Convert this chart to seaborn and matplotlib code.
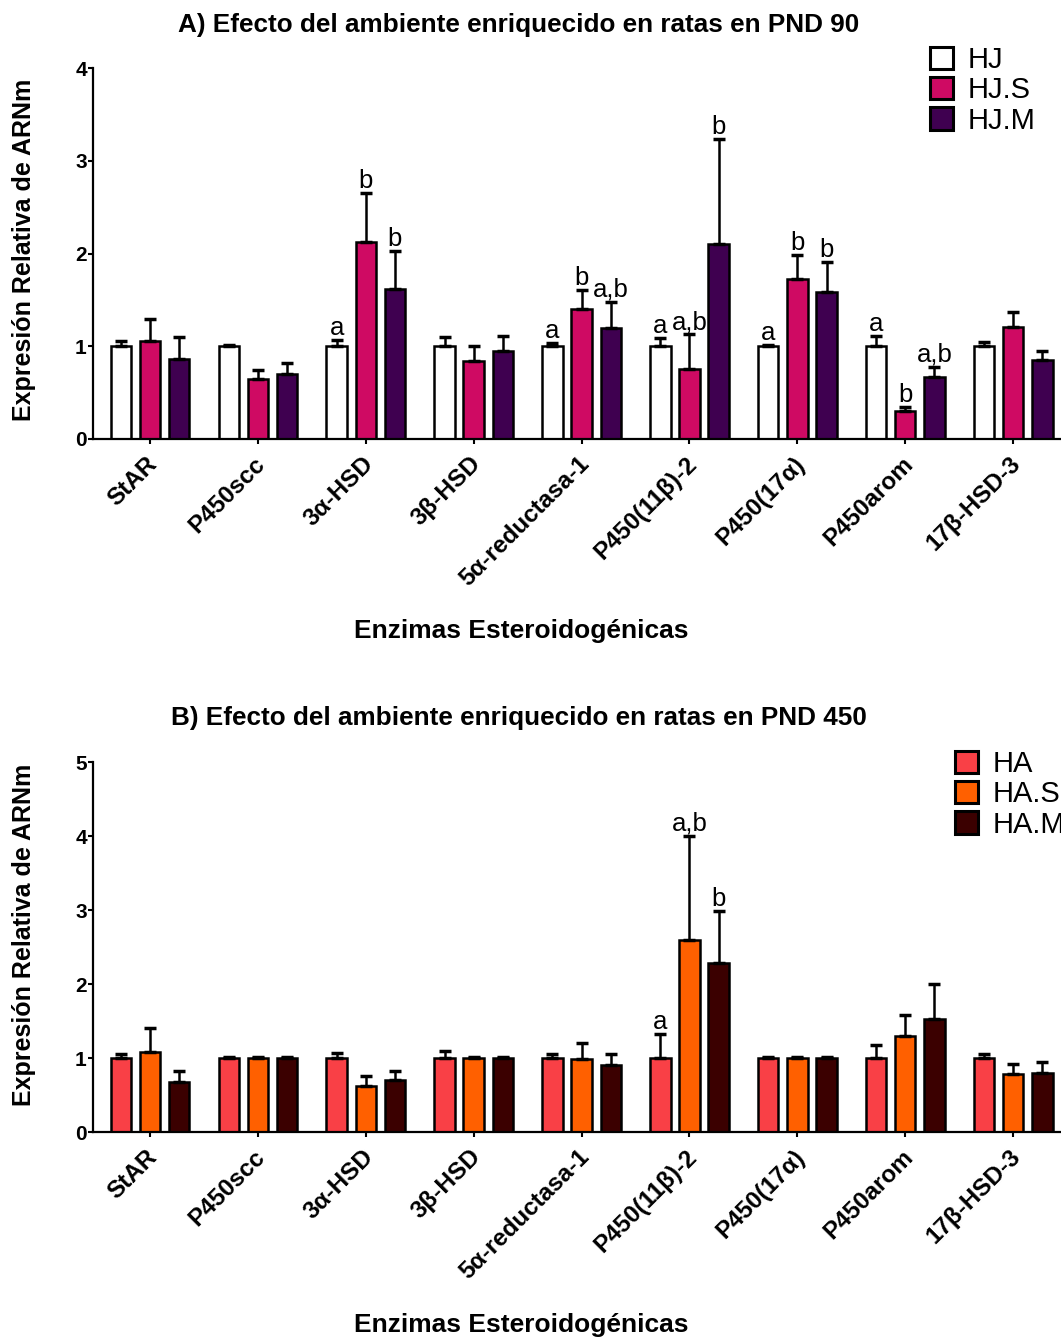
import numpy as np
import pandas as pd
import matplotlib
matplotlib.use("Agg")
import matplotlib.pyplot as plt
import matplotlib.patches as mpatches
import matplotlib.transforms as mtransforms
import seaborn as sns

enzimas = ["StAR", "P450scc", "3α-HSD", "3β-HSD", "5α-reductasa-1",
           "P450(11β)-2", "P450(17α)", "P450arom", "17β-HSD-3"]

# panel A - PND 90
grupos_a = ["HJ", "HJ.S", "HJ.M"]
hj = [1.00, 1.00, 1.00, 1.00, 1.00, 1.00, 1.00, 1.00, 1.00]
hj_s = [1.06, 0.65, 2.12, 0.84, 1.40, 0.76, 1.73, 0.30, 1.21]
hj_m = [0.86, 0.70, 1.62, 0.95, 1.20, 2.10, 1.59, 0.67, 0.85]
hj_err = [0.06, 0.01, 0.07, 0.10, 0.04, 0.09, 0.01, 0.11, 0.05]
hj_s_err = [0.23, 0.09, 0.53, 0.16, 0.21, 0.37, 0.25, 0.04, 0.16]
hj_m_err = [0.24, 0.12, 0.41, 0.16, 0.28, 1.13, 0.32, 0.11, 0.10]
letras_a = [["", "", "a", "", "a", "a", "a", "a", ""],
            ["", "", "b", "", "b", "a,b", "b", "b", ""],
            ["", "", "b", "", "a,b", "b", "b", "a,b", ""]]

# panel B - PND 450
grupos_b = ["HA", "HA.S", "HA.M"]
ha = [1.00, 1.00, 1.00, 1.00, 1.00, 1.00, 1.00, 1.00, 1.00]
ha_s = [1.08, 1.00, 0.62, 1.00, 0.98, 2.60, 1.00, 1.30, 0.78]
ha_m = [0.68, 1.00, 0.70, 1.00, 0.90, 2.28, 1.00, 1.53, 0.80]
ha_err = [0.06, 0.01, 0.07, 0.10, 0.05, 0.33, 0.01, 0.18, 0.06]
ha_s_err = [0.32, 0.01, 0.14, 0.01, 0.22, 1.40, 0.01, 0.28, 0.14]
ha_m_err = [0.14, 0.01, 0.12, 0.01, 0.15, 0.70, 0.01, 0.47, 0.14]
letras_b = [["", "", "", "", "", "a", "", "", ""],
            ["", "", "", "", "", "a,b", "", "", ""],
            ["", "", "", "", "", "b", "", "", ""]]

colores_a = ["#FFFFFF", "#CF0A63", "#3F0050"]
colores_b = ["#F94046", "#FF6000", "#3B0000"]

plt.rcParams['font.family'] = ['Liberation Sans', 'DejaVu Sans']

W, H = 1061, 1338
fig = plt.figure(figsize=(W / 100, H / 100), dpi=100)


def panel(rect, grupos, valores, errores, letras, colores, ymax, titulo, title_y, xlabel_y, ylabel_y, leg_xy):
    ax = fig.add_axes(rect)
    df = pd.DataFrame({
        "enzima": np.tile(enzimas, len(grupos)),
        "grupo": np.repeat(grupos, len(enzimas)),
        "valor": np.concatenate(valores),
    })
    sns.barplot(data=df, x="enzima", y="valor", hue="grupo", order=enzimas,
                hue_order=grupos, palette=colores, width=0.81, gap=0.3,
                errorbar=None, edgecolor="black", linewidth=1.8, saturation=1,
                legend=False, ax=ax)
    for cont, err, lets in zip(ax.containers, errores, letras):
        xs = [p.get_x() + p.get_width() / 2 for p in cont.patches]
        ys = [p.get_height() for p in cont.patches]
        ax.errorbar(xs, ys, yerr=[np.zeros(len(err)), err], fmt="none",
                    ecolor="black", elinewidth=1.8, capsize=4, capthick=2.5, zorder=1)
        for x, y, e, t in zip(xs, ys, err, lets):
            if t:
                ax.annotate(t, (x, y + e), xytext=(0, 0), textcoords="offset points",
                            ha="center", va="bottom", fontsize=18.5)
    ax.set_xlim(-0.528, 8.443)
    ax.set_ylim(0, ymax)
    ax.set_yticks(range(0, ymax + 1))
    for s in ["top", "right"]:
        ax.spines[s].set_visible(False)
    for s in ["left", "bottom"]:
        ax.spines[s].set_linewidth(1.6)
    ax.tick_params(axis="y", length=3.5, width=1.5, labelsize=15, pad=1)
    ax.tick_params(axis="x", length=3.5, width=1.5, labelsize=17.5, pad=3)
    for lab in ax.get_yticklabels():
        lab.set_fontweight("bold")
    off = mtransforms.ScaledTranslation(-3 / 72, -3 / 72, fig.dpi_scale_trans)
    for lab in ax.get_xticklabels():
        lab.set_fontweight("bold")
        lab.set_rotation(45)
        lab.set_ha("right")
        lab.set_va("top")
        lab.set_rotation_mode("anchor")
        lab.set_transform(lab.get_transform() + off)
    ax.set_xlabel("")
    ax.set_ylabel("")
    handles = [mpatches.Patch(facecolor=c, edgecolor="black", linewidth=2.2, label=g)
               for g, c in zip(grupos, colores)]
    ax.legend(handles=handles, loc="upper left", bbox_to_anchor=leg_xy,
              bbox_transform=fig.transFigure, frameon=False, fontsize=21,
              handlelength=0.8, handleheight=0.8, handletextpad=0.5,
              labelspacing=0.08, borderaxespad=0, borderpad=0)
    fig.text(519 / W, title_y, titulo, ha="center", va="center",
             fontsize=18.8, fontweight="bold")
    fig.text(521 / W, xlabel_y, "Enzimas Esteroidogénicas", ha="center",
             va="center", fontsize=19, fontweight="bold")
    fig.text(24 / W, ylabel_y, "Expresión Relativa de ARNm", ha="center",
             va="center", rotation=90, fontsize=18, fontweight="bold")
    return ax


panel([93 / W, 1 - 439 / H, 968 / W, 371 / H], grupos_a,
      [hj, hj_s, hj_m], [hj_err, hj_s_err, hj_m_err], letras_a, colores_a, 4,
      "A) Efecto del ambiente enriquecido en ratas en PND 90",
      1 - 25 / H, 1 - 631 / H, 1 - 250 / H, (930 / W, 1 - 46 / H))

panel([93 / W, 1 - 1132 / H, 968 / W, 370 / H], grupos_b,
      [ha, ha_s, ha_m], [ha_err, ha_s_err, ha_m_err], letras_b, colores_b, 5,
      "B) Efecto del ambiente enriquecido en ratas en PND 450",
      1 - 718 / H, 1 - 1325 / H, 1 - 935 / H, (955 / W, 1 - 750 / H))

fig.savefig("out.png", dpi=100)
